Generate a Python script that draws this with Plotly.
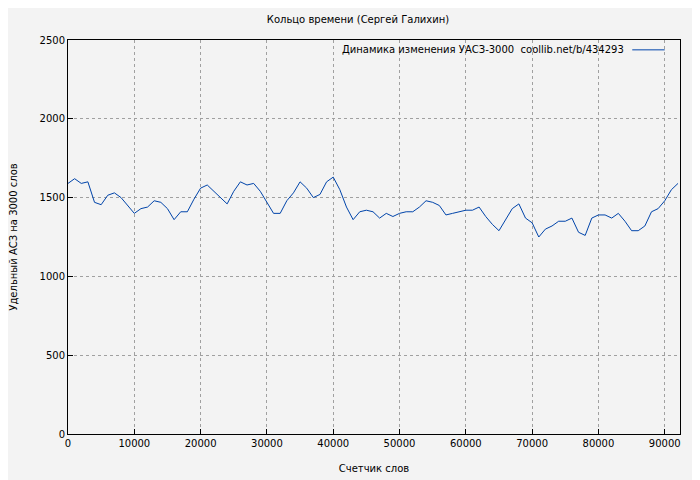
import plotly.graph_objects as go

words = [i * 1000 for i in range(93)]
values = [1590, 1620, 1590, 1600, 1470, 1455, 1515, 1530, 1500, 1450,
          1400, 1430, 1440, 1480, 1470, 1430, 1360, 1410, 1410, 1490,
          1560, 1580, 1540, 1500, 1460, 1540, 1600, 1580, 1590, 1540,
          1470, 1400, 1400, 1480, 1530, 1600, 1560, 1500, 1520, 1600,
          1630, 1550, 1440, 1360, 1410, 1420, 1410, 1370, 1400, 1380,
          1400, 1410, 1410, 1440, 1480, 1470, 1450, 1390, 1400, 1410,
          1420, 1420, 1440, 1380, 1330, 1290, 1360, 1430, 1460, 1370,
          1340, 1250, 1300, 1320, 1350, 1350, 1370, 1280, 1260, 1370,
          1390, 1390, 1370, 1400, 1350, 1290, 1290, 1320, 1410, 1430,
          1480, 1550, 1590]
legend_text = 'Динамика изменения УАСЗ-3000  coollib.net/b/434293'

fig = go.Figure()
fig.add_trace(go.Scatter(
    x=words, y=values, mode='lines',
    line=dict(color='#0044aa', width=1),
    showlegend=False,
))

axis = dict(
    showline=True, linecolor='black', linewidth=1, mirror=True,
    ticks='inside', ticklen=5, tickcolor='black',
    showgrid=True, gridcolor='#a0a0a0', griddash='dot', gridwidth=1,
    zeroline=False, tickfont=dict(size=10, color='black'),
    tickformat='d', automargin=False,
)

fig.update_layout(
    width=700, height=480,
    paper_bgcolor='#f3f3f3', plot_bgcolor='#f3f3f3',
    font=dict(family='DejaVu Sans', size=10, color='black'),
    title=dict(text='Кольцо времени (Сергей Галихин)', x=0.5, y=0.977,
               xanchor='center', yanchor='middle', font=dict(size=10)),
    margin=dict(l=60, r=28, t=32, b=54),
    xaxis=dict(axis, range=[0, 92300], dtick=10000,
               title=dict(text='Счетчик слов', standoff=16, font=dict(size=10))),
    yaxis=dict(axis, range=[0, 2500], dtick=500,
               title=dict(text='Удельный АСЗ на 3000 слов', standoff=24, font=dict(size=10))),
)

# gnuplot style key: text left, line sample on the right
fig.add_annotation(text=legend_text, xref='paper', yref='paper',
                   x=0.912, y=0.975, xanchor='right', yanchor='middle',
                   showarrow=False, font=dict(size=10))
fig.add_shape(type='line', xref='paper', yref='paper',
              x0=0.922, x1=0.975, y0=0.975, y1=0.975,
              line=dict(color='#0044aa', width=1))

fig.write_html("out.html")
